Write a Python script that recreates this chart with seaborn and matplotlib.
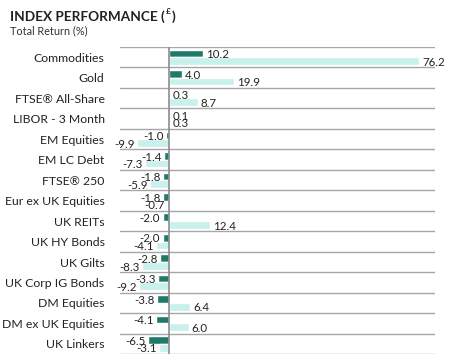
import matplotlib
matplotlib.use("Agg")
import matplotlib.pyplot as plt
import numpy as np
import pandas as pd
import seaborn as sns

categories = ["Commodities", "Gold", "FTSE® All-Share", "LIBOR - 3 Month", "EM Equities",
              "EM LC Debt", "FTSE® 250", "Eur ex UK Equities", "UK REITs", "UK HY Bonds",
              "UK Gilts", "UK Corp IG Bonds", "DM Equities", "DM ex UK Equities", "UK Linkers"]
period_a = [10.2, 4.0, 0.3, 0.1, -1.0, -1.4, -1.8, -1.8, -2.0, -2.0, -2.8, -3.3, -3.8, -4.1, -6.5]
period_b = [76.2, 19.9, 8.7, 0.3, -9.9, -7.3, -5.9, -0.7, 12.4, -4.1, -8.3, -9.2, 6.4, 6.0, -3.1]
series_names = ["A", "B"]

dark = "#1f7a6c"
light = "#c8f0ec"
grid_col = "#a6a6a6"
text_col = "#222222"

df = pd.DataFrame({
    "name": categories * 2,
    "value": period_a + period_b,
    "series": [series_names[0]] * len(categories) + [series_names[1]] * len(categories),
})

sns.set_style("white")
plt.rcParams["font.family"] = ["Lato", "DejaVu Sans"]

fig = plt.figure(figsize=(4.54, 3.64), dpi=100)
ax = fig.add_axes([0.264, 0.027, 0.694, 0.844])

sns.barplot(data=df, y="name", x="value", hue="series", order=categories,
            palette=[dark, light], orient="h", width=0.74, ax=ax,
            legend=False, saturation=1)

for cont, vals in zip(ax.containers, [period_a, period_b]):
    for bar, v in zip(cont, vals):
        y = bar.get_y() + bar.get_height() / 2 + 0.06
        x0 = bar.get_x()
        x1 = x0 + bar.get_width()
        if v >= 0:
            ax.text(max(x0, x1) + 0.9, y, f"{v:.1f}", ha="left", va="center",
                    fontsize=8.3, color=text_col)
        else:
            ax.text(min(x0, x1) - 0.7, y, f"{v:.1f}", ha="right", va="center",
                    fontsize=8.3, color=text_col)

ax.set_xlim(-15, 81)
ax.set_ylim(len(categories) - 0.5, -0.5)
for yy in np.arange(-0.5, len(categories), 1.0):
    ax.axhline(yy, color=grid_col, lw=1.0, zorder=0)
ax.axvline(0, color="#8c8c8c", lw=1.2, zorder=3)

for s in ax.spines.values():
    s.set_visible(False)
ax.set_xticks([])
ax.set_xlabel("")
ax.set_ylabel("")
ax.tick_params(axis="y", length=0, pad=11, labelsize=8.8, labelcolor=text_col)

# title with a small raised pound sign
t1 = fig.text(0.022, 0.942, "INDEX PERFORMANCE (", fontsize=9.8, fontweight="bold", color=text_col)
fig.canvas.draw()
r = fig.canvas.get_renderer()
bb = t1.get_window_extent(r).transformed(fig.transFigure.inverted())
t2 = fig.text(bb.x1 + 0.002, 0.962, "\u00a3", fontsize=6, fontweight="bold", color=text_col)
bb2 = t2.get_window_extent(r).transformed(fig.transFigure.inverted())
fig.text(bb2.x1 + 0.002, 0.942, ")", fontsize=9.8, fontweight="bold", color=text_col)
fig.text(0.022, 0.905, "Total Return (%)", fontsize=7.8, color="#333333")

fig.savefig("out.png", dpi=100)
